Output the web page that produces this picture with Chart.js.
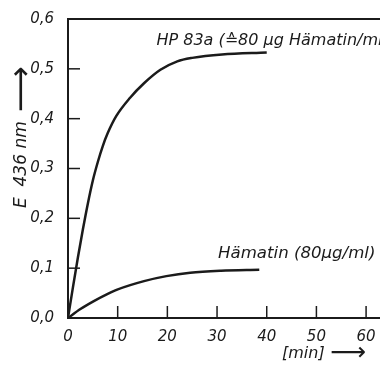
<!DOCTYPE html>
<html lang="de">
<head>
  <meta charset="UTF-8">
  <title>E 436 nm – Hämatin</title>
  <script src="https://cdn.jsdelivr.net/npm/chart.js"></script>
  <style>
    html, body { margin: 0; padding: 0; background: #fff; }
    canvas { display: block; }
  </style>
</head>
<body>
  <canvas id="kinetikChart" width="380" height="366"></canvas>

  <script>
    const hpMinutes    = [0, 1, 2, 3, 4, 5, 6, 7, 8, 9.7, 12.5, 15.3, 18.6, 22, 25, 31, 40];
    const hpExtinction = [0, 0.062, 0.122, 0.178, 0.23, 0.276, 0.313, 0.345, 0.371, 0.405, 0.442, 0.471, 0.498, 0.515, 0.522, 0.529, 0.533];

    const haemMinutes    = [0, 2.5, 5.2, 7.9, 9.9, 15.3, 19.8, 24.6, 30.8, 38.5];
    const haemExtinction = [0, 0.018, 0.034, 0.048, 0.057, 0.074, 0.084, 0.091, 0.095, 0.097];

    const seriesLabels = ["HP 83a (≙80 µg Hämatin/ml)", "Hämatin (80µg/ml)"];
    const yAxisTitle = "E  436 nm";
    const xAxisTitle = "[min]";
    const arrow = "⟶";

    const xRange = [0, 62.8];
    const yRange = [0, 0.6];

    const INK = "#1b1b1b";
    const FONT = "'DejaVu Sans', sans-serif";

    const toPoints = (xs, ys) => xs.map((x, i) => ({ x: x, y: ys[i] }));

    // Innenliegende Striche, oberer Rahmen, Beschriftungen
    const axisExtras = {
      id: "axisExtras",
      afterDraw(chart) {
        const { ctx, chartArea: a, scales: { x, y } } = chart;
        const line = (x1, y1, x2, y2) => {
          ctx.beginPath(); ctx.moveTo(x1, y1); ctx.lineTo(x2, y2); ctx.stroke();
        };
        ctx.save();
        ctx.strokeStyle = INK;
        ctx.lineWidth = 1.5;
        x.ticks.forEach(t => {
          if (t.value === 0) return;
          const px = x.getPixelForValue(t.value);
          line(px, a.bottom, px, a.bottom - 12);
        });
        y.ticks.forEach(t => {
          if (t.value === 0 || Math.abs(t.value - yRange[1]) < 1e-9) return;
          const py = y.getPixelForValue(t.value);
          line(a.left, py, a.left + 12, py);
        });
        // oberer Rahmen bei 0,6
        ctx.lineWidth = 2;
        const top = y.getPixelForValue(yRange[1]);
        line(a.left, top, a.right, top);

        // Kurvenbeschriftungen
        ctx.fillStyle = INK;
        ctx.textBaseline = "middle";
        ctx.textAlign = "left";
        ctx.font = "italic 16px " + FONT;
        ctx.fillText(seriesLabels[0], x.getPixelForValue(17.8), y.getPixelForValue(0.556));
        ctx.font = "italic 16.6px " + FONT;
        ctx.fillText(seriesLabels[1], x.getPixelForValue(30.2), y.getPixelForValue(0.13));

        // y-Achsentitel (gedreht)
        ctx.save();
        ctx.translate(22, 208);
        ctx.rotate(-Math.PI / 2);
        ctx.font = "italic 17px " + FONT;
        ctx.fillText(yAxisTitle, 0, 0);
        ctx.font = "32px " + FONT;
        ctx.fillText(arrow, 96, 1);
        ctx.restore();

        // x-Achsentitel
        ctx.font = "italic 16px " + FONT;
        ctx.fillText(xAxisTitle, 282, 354);
        ctx.font = "25px " + FONT;
        ctx.fillText(arrow, 330, 353);
        ctx.restore();
      }
    };

    new Chart(document.getElementById("kinetikChart").getContext("2d"), {
      type: "line",
      data: {
        datasets: [
          {
            label: seriesLabels[0],
            data: toPoints(hpMinutes, hpExtinction),
            borderColor: INK,
            borderWidth: 2.5,
            pointRadius: 0,
            cubicInterpolationMode: "monotone",
            fill: false,
          },
          {
            label: seriesLabels[1],
            data: toPoints(haemMinutes, haemExtinction),
            borderColor: INK,
            borderWidth: 2.5,
            pointRadius: 0,
            cubicInterpolationMode: "monotone",
            fill: false,
          },
        ],
      },
      options: {
        responsive: false,
        animation: false,
        layout: { padding: { top: 19, right: 0, left: 0, bottom: 0 } },
        plugins: {
          legend: { display: false },
          tooltip: { enabled: false },
        },
        scales: {
          x: {
            type: "linear",
            min: xRange[0],
            max: xRange[1],
            afterFit(scale) { scale.height = 48; },
            grid: { display: false },
            border: { display: true, color: INK, width: 2 },
            ticks: {
              stepSize: 10,
              includeBounds: false,
              padding: 2,
              color: INK,
              font: { family: FONT, size: 15, style: "italic" },
            },
          },
          y: {
            min: yRange[0],
            max: yRange[1],
            afterFit(scale) { scale.width = 68; },
            grid: { display: false },
            border: { display: true, color: INK, width: 2 },
            ticks: {
              stepSize: 0.1,
              padding: 6,
              color: INK,
              font: { family: FONT, size: 15, style: "italic" },
              callback: v => v.toFixed(1).replace(".", ","),
            },
          },
        },
      },
      plugins: [axisExtras],
    });
  </script>
</body>
</html>
